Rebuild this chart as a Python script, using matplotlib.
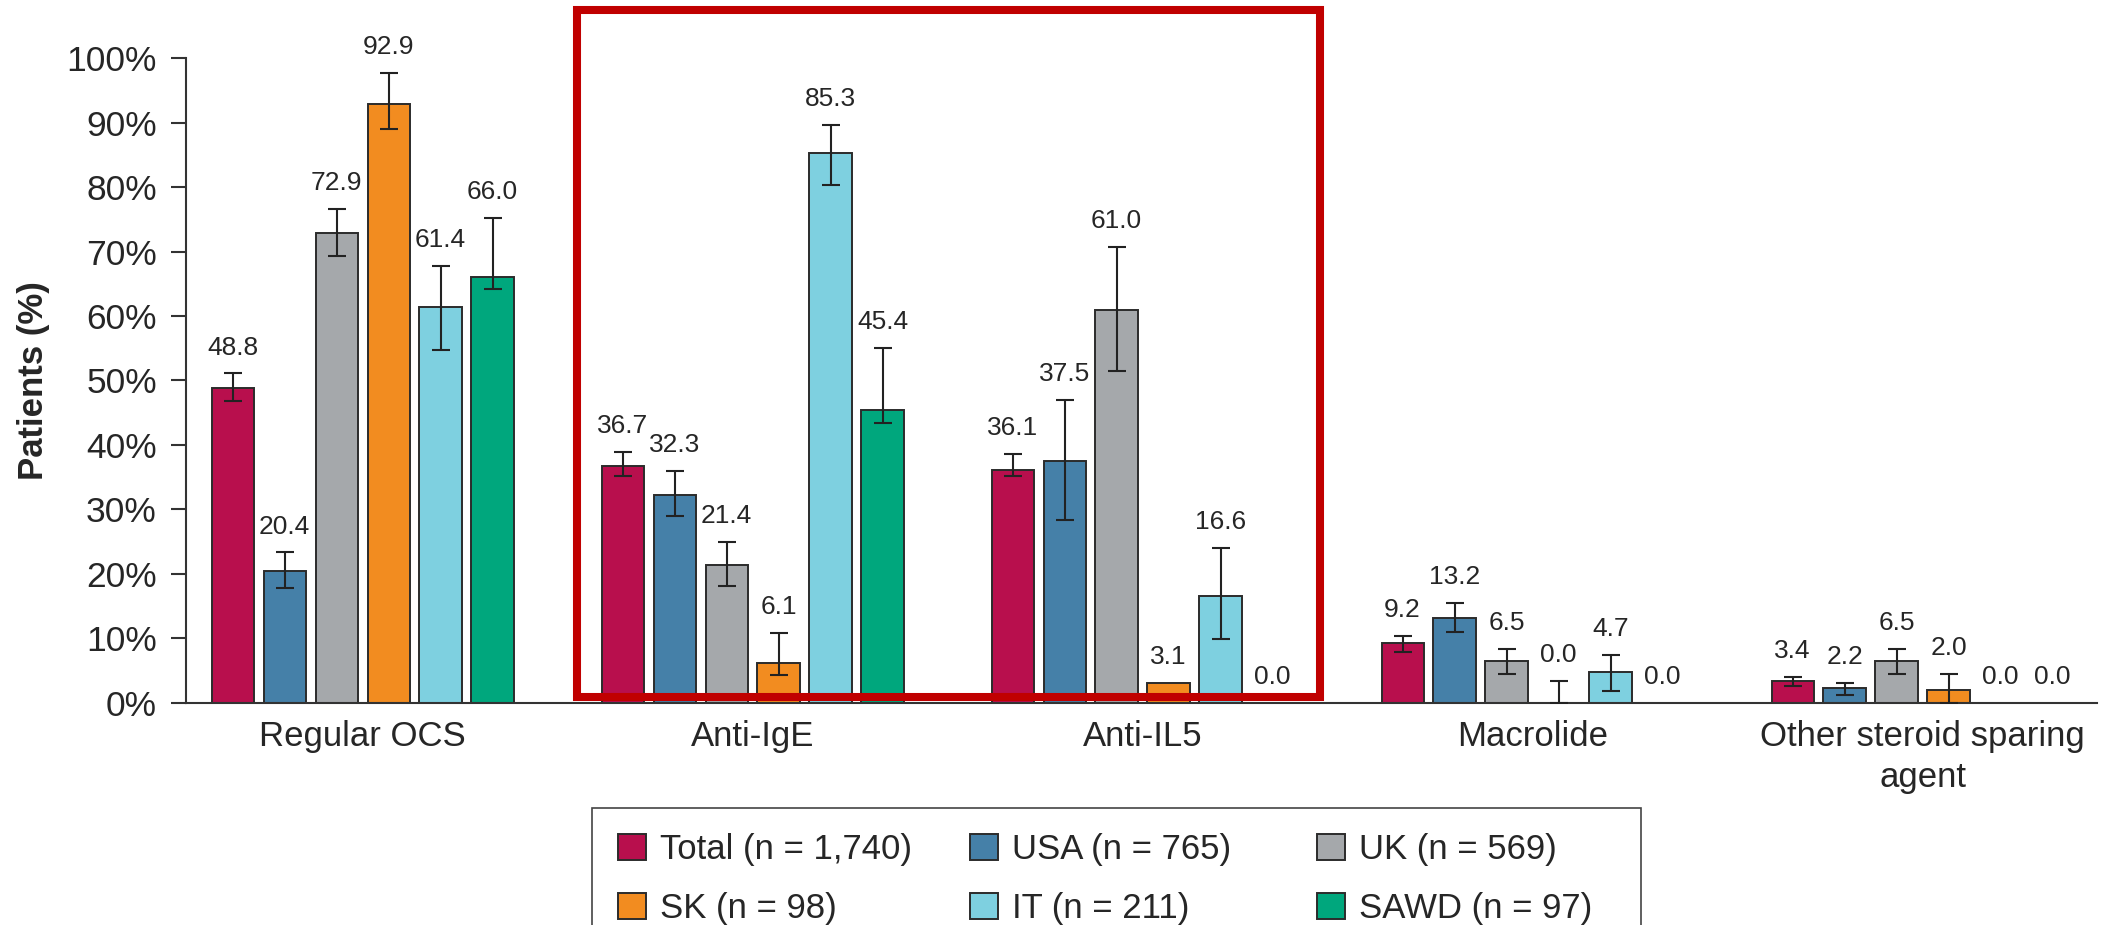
import numpy as np
import matplotlib.pyplot as plt
from matplotlib.patches import Rectangle

plt.rcParams['font.family'] = ['Liberation Sans', 'DejaVu Sans']

# ==============================
# DATA
# ==============================
categories = ["Regular OCS", "Anti-IgE", "Anti-IL5", "Macrolide",
              "Other steroid sparing\nagent"]

series_names = ["Total (n = 1,740)", "USA (n = 765)", "UK (n = 569)",
                "SK (n = 98)", "IT (n = 211)", "SAWD (n = 97)"]

total = [48.8, 36.7, 36.1, 9.2, 3.4]
usa = [20.4, 32.3, 37.5, 13.2, 2.2]
uk = [72.9, 21.4, 61.0, 6.5, 6.5]
sk = [92.9, 6.1, 3.1, 0.0, 2.0]
it = [61.4, 85.3, 16.6, 4.7, 0.0]
sawd = [66.0, 45.4, 0.0, 0.0, 0.0]

# 95% CI bounds (nan = no interval shown)
total_lo = [46.8, 35.2, 35.2, 7.9, 2.5]
total_hi = [51.1, 38.9, 38.6, 10.3, 4.0]
usa_lo = [17.8, 29.0, 28.4, 11.0, 1.2]
usa_hi = [23.3, 35.9, 47.0, 15.4, 3.1]
uk_lo = [69.4, 18.1, 51.5, 4.5, 4.5]
uk_hi = [76.6, 24.9, 70.7, 8.3, 8.3]
sk_lo = [89.1, 4.3, np.nan, 0.0, 0.0]
sk_hi = [97.7, 10.8, np.nan, 3.4, 4.4]
it_lo = [54.8, 80.3, 9.8, 1.85, np.nan]
it_hi = [67.8, 89.7, 24.0, 7.45, np.nan]
sawd_lo = [64.2, 43.4, np.nan, np.nan, np.nan]
sawd_hi = [75.3, 55.0, np.nan, np.nan, np.nan]

values = [total, usa, uk, sk, it, sawd]
lows = [total_lo, usa_lo, uk_lo, sk_lo, it_lo, sawd_lo]
highs = [total_hi, usa_hi, uk_hi, sk_hi, it_hi, sawd_hi]

colors = ["#B80F4D", "#4580A8", "#A5A8AB", "#F28C20", "#7ED0E0", "#00A77D"]

# ==============================
# PLOT
# ==============================
fig = plt.figure(figsize=(21.12, 9.25), dpi=100)
ax = fig.add_axes([0.0881, 0.2405, 0.9048, 0.6963])

x = np.arange(len(categories))
pitch = 0.1333
width = 0.108
edge = "#2b2b2b"
txt = "#262626"

bars = []
for i, (vals, lo, hi) in enumerate(zip(values, lows, highs)):
    pos = x + (i - 2.5) * pitch
    vals = np.array(vals)
    lo = np.array(lo)
    hi = np.array(hi)
    b = ax.bar(pos, vals, width, color=colors[i], edgecolor=edge,
               linewidth=1.4, label=series_names[i], zorder=2)
    bars.append(b)
    has_err = ~np.isnan(lo)
    ax.errorbar(pos[has_err], vals[has_err],
                yerr=[vals[has_err] - lo[has_err], hi[has_err] - vals[has_err]],
                fmt="none", ecolor="#222222", elinewidth=1.5,
                capsize=6.5, capthick=1.5, zorder=3)
    for p, v, h in zip(pos, vals, hi):
        top = v if np.isnan(h) else h
        ax.annotate(f"{v:.1f}", (p, top), xytext=(0, 10),
                    textcoords="offset points", ha="center", va="bottom",
                    fontsize=19, color=txt)

ax.set_xlim(-0.4526, 4.4474)
ax.set_ylim(0, 100)
ax.set_yticks(np.arange(0, 101, 10))
ax.set_yticklabels([f"{t}%" for t in range(0, 101, 10)])
ax.set_xticks(x)
ax.set_xticklabels(categories, linespacing=1.3)

ax.spines["top"].set_visible(False)
ax.spines["right"].set_visible(False)
for s in ("left", "bottom"):
    ax.spines[s].set_linewidth(1.5)
    ax.spines[s].set_color("#333333")

ax.tick_params(axis="y", length=11, width=1.5, pad=10, labelsize=25.5,
               colors="#333333", labelcolor=txt)
ax.tick_params(axis="x", length=0, pad=12.5, labelsize=25, labelcolor=txt)

ax.set_ylabel("Patients (%)", fontsize=25, fontweight="bold", color=txt)
ax.yaxis.set_label_coords(-0.0712, 0.5)

# highlight box around the biologics groups
ax.add_patch(Rectangle((1 - 0.451, 0.85), 1.905, 106.75, fill=False,
                       edgecolor="#C00000", linewidth=5.8, clip_on=False,
                       zorder=5))

# legend: three columns of equal pitch inside one frame
col_x = [618 / 2112, 970 / 2112, 1317 / 2112]
for c in range(3):
    fig.legend(handles=[bars[c], bars[c + 3]],
               labels=[series_names[c], series_names[c + 3]],
               loc="upper left", bbox_to_anchor=(col_x[c], 1 - 833 / 925),
               frameon=False, borderpad=0, borderaxespad=0,
               fontsize=25, handlelength=0.8, handleheight=0.77,
               handletextpad=0.42, labelspacing=0.74, labelcolor=txt)

fig.patches.append(Rectangle((592 / 2112, -0.1), 1049 / 2112,
                             0.1 + 1 - 808 / 925, fill=False,
                             edgecolor="#444444", linewidth=1.2,
                             transform=fig.transFigure, figure=fig))

fig.savefig("out.png", dpi=100)
plt.close(fig)
